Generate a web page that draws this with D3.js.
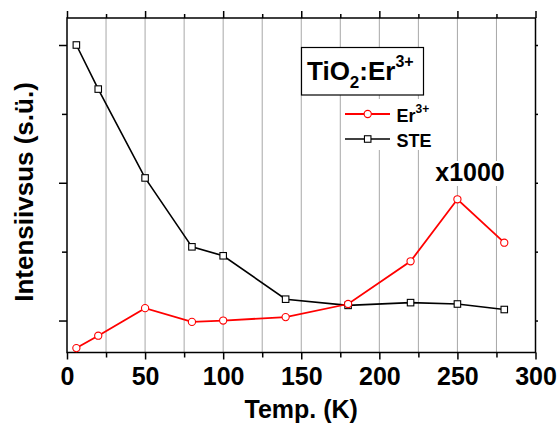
<!DOCTYPE html>
<html>
<head>
<meta charset="utf-8">
<script src="https://cdn.jsdelivr.net/npm/d3@7"></script>
<style>
  body { margin: 0; background: #fff; }
  svg { display: block; font-family: "Liberation Sans", Arial, sans-serif; }
</style>
</head>
<body>
<script>
// Temperatures (K)
const temps = [6, 20, 50, 80, 100, 140, 180, 220, 250, 280];
// Er3+ emission intensity (×1000, arb. units)
const erValues = [0.60, 0.78, 1.18, 0.98, 1.00, 1.05, 1.24, 1.86, 2.76, 2.13];
// Self-trapped exciton emission intensity (arb. units)
const steValues = [5.00, 4.36, 3.07, 2.07, 1.94, 1.31, 1.22, 1.26, 1.24, 1.16];

const xMajorTicks = [0, 50, 100, 150, 200, 250, 300];
const xMinorTicks = [25, 75, 125, 175, 225, 275];
const yMajorTicks = [1, 3, 5];
const yMinorTicks = [2, 4];
const gridTicks = [25, 50, 75, 100, 125, 150, 175, 200, 225, 250, 275];

const W = 560, H = 426;
const plotL = 67, plotR = 535.5, plotT = 18, plotB = 352.5;

const svg = d3.select("body").append("svg").attr("width", W).attr("height", H);

const x = d3.scaleLinear().domain([0, 300]).range([plotL, plotR]);
const y = d3.scaleLinear().domain([0.536, 5.392]).range([plotB, plotT]);

// vertical grid
svg.append("g").selectAll("line").data(gridTicks).join("line")
  .attr("x1", d => x(d)).attr("x2", d => x(d))
  .attr("y1", plotT).attr("y2", plotB)
  .attr("stroke", "#a8a8a8").attr("stroke-width", 1);

// white patches behind annotations
svg.append("rect").attr("x", 344).attr("y", 99).attr("width", 92).attr("height", 51).attr("fill", "#fff");
svg.append("rect").attr("x", 430).attr("y", 161).attr("width", 80).attr("height", 25).attr("fill", "#fff");

function styleAxis(g) {
  g.select(".domain").remove();
  g.selectAll("line").attr("stroke", "#000").attr("stroke-width", 1.5);
}

// bottom axis
const gb = svg.append("g").attr("transform", `translate(0,${plotB})`);
gb.call(d3.axisBottom(x).tickValues(xMajorTicks).tickSize(7).tickFormat(d3.format("d")))
  .call(styleAxis);
gb.selectAll("text")
  .attr("y", 32.5).attr("dy", null)
  .attr("font-size", 25).attr("font-weight", "bold").attr("fill", "#000")
  .attr("font-family", "'Liberation Sans', Arial, sans-serif");
svg.append("g").attr("transform", `translate(0,${plotB})`)
  .call(d3.axisBottom(x).tickValues(xMinorTicks).tickSize(5).tickFormat(""))
  .call(styleAxis);

// top axis
svg.append("g").attr("transform", `translate(0,${plotT})`)
  .call(d3.axisTop(x).tickValues(xMajorTicks).tickSize(7).tickFormat(""))
  .call(styleAxis);
svg.append("g").attr("transform", `translate(0,${plotT})`)
  .call(d3.axisTop(x).tickValues(xMinorTicks).tickSize(4).tickFormat(""))
  .call(styleAxis);

// left axis
svg.append("g").attr("transform", `translate(${plotL},0)`)
  .call(d3.axisLeft(y).tickValues(yMajorTicks).tickSize(8).tickFormat(""))
  .call(styleAxis);
svg.append("g").attr("transform", `translate(${plotL},0)`)
  .call(d3.axisLeft(y).tickValues(yMinorTicks).tickSize(5).tickFormat(""))
  .call(styleAxis);

// right axis
svg.append("g").attr("transform", `translate(${plotR},0)`)
  .call(d3.axisRight(y).tickValues(yMajorTicks.concat(yMinorTicks)).tickSize(2.5).tickFormat(""))
  .call(styleAxis);

// frame
svg.append("rect")
  .attr("x", plotL).attr("y", plotT)
  .attr("width", plotR - plotL).attr("height", plotB - plotT)
  .attr("fill", "none").attr("stroke", "#000").attr("stroke-width", 1.5);

// series
const line = d3.line().x(d => x(d[0])).y(d => y(d[1]));
const steData = temps.map((t, i) => [t, steValues[i]]);
const erData = temps.map((t, i) => [t, erValues[i]]);

svg.append("path").datum(steData).attr("d", line)
  .attr("fill", "none").attr("stroke", "#000").attr("stroke-width", 1.6);
svg.append("path").datum(erData).attr("d", line)
  .attr("fill", "none").attr("stroke", "#ff0000").attr("stroke-width", 1.8);

const sq = 6.5;
svg.append("g").selectAll("rect").data(steData).join("rect")
  .attr("x", d => x(d[0]) - sq / 2).attr("y", d => y(d[1]) - sq / 2)
  .attr("width", sq).attr("height", sq)
  .attr("fill", "#fff").attr("stroke", "#000").attr("stroke-width", 1.1);
svg.append("g").selectAll("circle").data(erData).join("circle")
  .attr("cx", d => x(d[0])).attr("cy", d => y(d[1])).attr("r", 3.6)
  .attr("fill", "#fff").attr("stroke", "#ff0000").attr("stroke-width", 1.1);

// title box
svg.append("rect").attr("x", 301.5).attr("y", 47.5).attr("width", 122).attr("height", 47.5)
  .attr("fill", "#fff").attr("stroke", "#000").attr("stroke-width", 1.2);
const tt = svg.append("text").attr("x", 307).attr("y", 80)
  .attr("font-size", 26).attr("font-weight", "bold").attr("fill", "#000");
tt.append("tspan").text("TiO");
tt.append("tspan").attr("font-size", 17).attr("dy", 8).text("2");
tt.append("tspan").attr("dy", -8).text(":Er");
tt.append("tspan").attr("font-size", 16).attr("dy", -13.5).text("3+");

// legend
const legend = [
  { name: "Er", sup: "3+", color: "#ff0000", shape: "circle", yy: 114 },
  { name: "STE", sup: "", color: "#000", shape: "square", yy: 139 }
];
legend.forEach(l => {
  svg.append("line").attr("x1", 345).attr("x2", 390).attr("y1", l.yy).attr("y2", l.yy)
    .attr("stroke", l.color).attr("stroke-width", l.shape === "circle" ? 1.8 : 1.6);
  if (l.shape === "circle") {
    svg.append("circle").attr("cx", 367.7).attr("cy", l.yy).attr("r", 3.6)
      .attr("fill", "#fff").attr("stroke", l.color).attr("stroke-width", 1.1);
  } else {
    svg.append("rect").attr("x", 367.7 - sq / 2).attr("y", l.yy - sq / 2)
      .attr("width", sq).attr("height", sq)
      .attr("fill", "#fff").attr("stroke", l.color).attr("stroke-width", 1.1);
  }
  const t = svg.append("text").attr("x", 396.5).attr("y", l.yy + 7.5)
    .attr("font-size", 18).attr("font-weight", "bold").attr("fill", "#000");
  t.append("tspan").text(l.name);
  if (l.sup) t.append("tspan").attr("font-size", 12).attr("dy", -8.5).text(l.sup);
});

// scale factor note
svg.append("text").attr("x", 470).attr("y", 180.5).attr("text-anchor", "middle")
  .attr("font-size", 25).attr("font-weight", "bold").attr("fill", "#000").text("x1000");

// axis titles
svg.append("text").attr("x", (plotL + plotR) / 2).attr("y", 418).attr("text-anchor", "middle")
  .attr("font-size", 25).attr("font-weight", "bold").attr("fill", "#000").text("Temp. (K)");
svg.append("text").attr("transform", "translate(33,192) rotate(-90)").attr("text-anchor", "middle")
  .attr("font-size", 26).attr("font-weight", "bold").attr("fill", "#000").text("Intensiivsus (s.ü.)");
</script>
</body>
</html>
